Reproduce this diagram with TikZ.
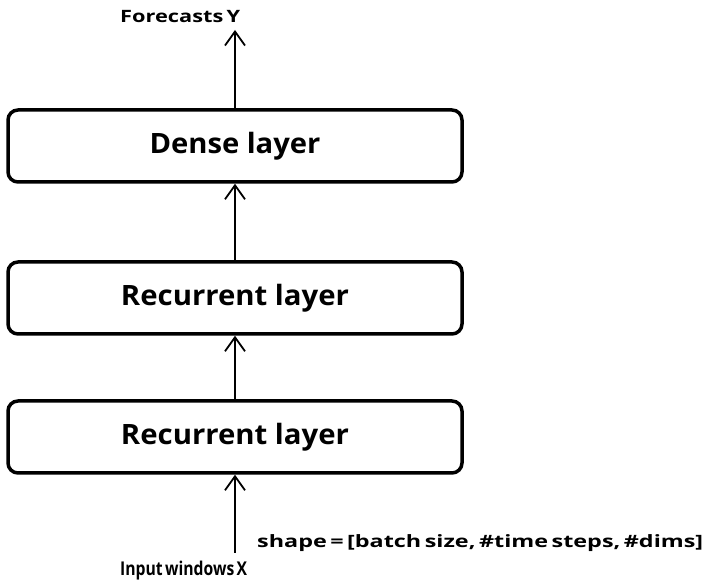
\documentclass[tikz,border=0pt]{standalone}
\usepackage{fontspec}
\usepackage{graphicx}
\setmainfont{Open Sans}
\usetikzlibrary{arrows.meta}
% set a label at a given width, keeping its natural height
\newcommand{\fitwidth}[2]{\resizebox{#1}{\height}{#2}}
% the same, with narrow word spaces
\newcommand{\fittight}[2]{\resizebox{#1}{\height}{\spaceskip=0.15em\relax #2}}
\begin{document}
\begin{tikzpicture}[x=1pt,y=1pt,
  layerbox/.style={draw=black, line width=3.5pt, rounded corners=10pt,
    minimum width=454pt, minimum height=72pt, inner sep=0pt,
    font=\fontsize{28}{30}\selectfont\bfseries},
  flow/.style={draw=black, line width=1.8pt,
    -{Straight Barb[length=14pt,width=20pt,line width=1.8pt]}},
  caption/.style={inner sep=0pt, font=\fontsize{17}{20}\selectfont\bfseries}]
  \useasboundingbox[fill=white] (0,0) rectangle (710,583);
  % layer stack
  \node[layerbox] (dense) at (235,437) {\fitwidth{171pt}{Dense layer}};
  \node[layerbox] (rec1) at (235,285) {\fitwidth{228pt}{Recurrent layer}};
  \node[layerbox] (rec2) at (235,146) {\fitwidth{228pt}{Recurrent layer}};
  % input and output
  \coordinate (inp) at (235,30);
  \coordinate (out) at (235,553);
  \node[caption, anchor=base west, font=\fontsize{17}{20}\selectfont\bfseries] (ylab) at (120,560) {\fittight{120pt}{Forecasts Y}};
  \node[caption, anchor=base west, font=\fontsize{19}{22}\selectfont\bfseries] (xlab) at (120,7) {\fittight{127pt}{Input windows X}};
  \node[caption, anchor=base west] (shp) at (257,35) {\fittight{446pt}{shape = [batch size, \#time steps, \#dims]}};
  % connectors
  \draw[flow] (inp) -- (rec2.south);
  \draw[flow] (rec2.north) -- (rec1.south);
  \draw[flow] (rec1.north) -- (dense.south);
  \draw[flow] (dense.north) -- (out);
\end{tikzpicture}
\end{document}
